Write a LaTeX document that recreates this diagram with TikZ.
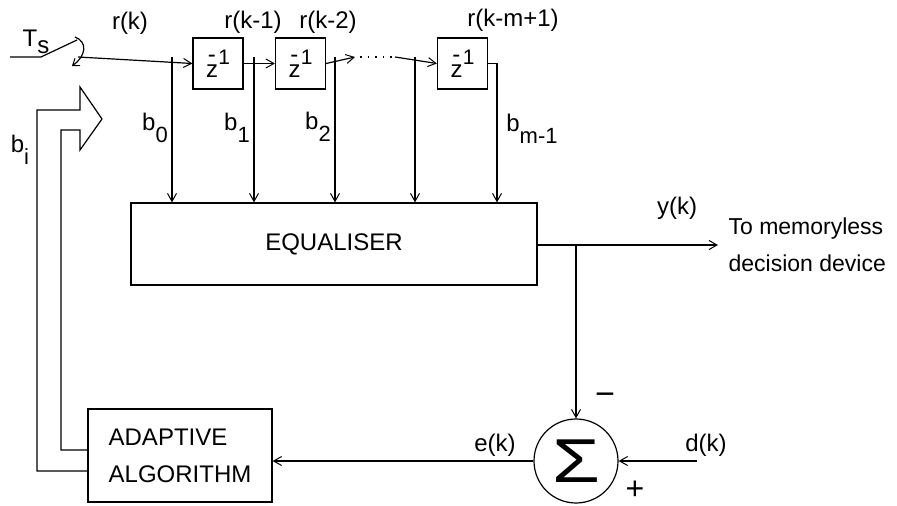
\documentclass[tikz,border=0pt]{standalone}
\usepackage{fontspec}
\setmainfont{Liberation Sans}
\usetikzlibrary{arrows.meta,calc}
\newcommand{\zinv}{z\kern-0.42em\raisebox{15pt}{-}\kern0.1em\raisebox{13pt}{\fontsize{21}{21}\selectfont 1}}
\newcommand{\coef}[1]{b\raisebox{-12pt}{\fontsize{22}{22}\selectfont #1}}

\begin{document}
\begin{tikzpicture}[x=1pt,y=-1pt,line width=1.2pt,
		every node/.style={font=\fontsize{24}{37}\selectfont,inner sep=0pt},
		blk/.style={draw,line width=1.2pt},
		delay/.style={blk,minimum width=50pt,minimum height=51pt},
		sig/.style={-{Straight Barb[length=8pt,width=9pt,line width=1pt]}}]
				\useasboundingbox (0,0) rectangle (897,506);
				\node[delay] (d1) at (218,63.5) {\zinv};
				\node[delay] (d2) at (300.5,63.5) {\zinv};
				\node[delay] (d3) at (462.5,63.5) {\zinv};
				\node[blk,minimum width=406pt,minimum height=82pt] (eq) at (334,244) {EQUALISER};
				\node[blk,minimum width=184pt,minimum height=93pt,align=left] (ad) at (180,455.5) {ADAPTIVE\\ALGORITHM};
				\node[draw,circle,minimum size=84pt] (sum) at (576,461) {\fontsize{62}{62}\selectfont\scalebox{1.25}[1]{Σ}};
				\coordinate (in) at (10,57);
				\coordinate (sw) at (41,57);
				\coordinate (t0) at (172,57);
				\coordinate (t1) at (254,57);
				\coordinate (t2) at (335,57);
				\coordinate (dt) at (355,57);
				\coordinate (ds) at (395,57);
				\coordinate (t3) at (415,57);
				\coordinate (t4) at (497,57);
				\coordinate (br) at (576,245);
				\coordinate (out) at (718,245);
				\coordinate (dk) at (697,461);
				% sampling switch
				\draw (in) -- (sw) -- (77,40);
				\draw[-{Straight Barb[length=6pt,width=9pt,line width=1pt]}] (75,37) .. controls (88,42) and (86,56) .. (72,66);
				% delay line
				\draw[sig] (78,57) -- (d1.west);
				\draw[sig] (d1.east) -- (d2.west);
				\draw[sig] (d2.east) -- (dt);
				\draw[line width=1.6pt,dash pattern=on 1.6pt off 6pt] (dt) ++(5,0) -- (ds);
				\draw[sig] (ds) -- (d3.west);
				\draw[sig] (d3.east) -| (t4 |- eq.north);
				\foreach \t in {t0,t1,t2,t3}
					\draw[sig] (\t) -- (\t |- eq.north);
				% output and error
				\draw[sig] (eq.east |- br) -- (out);
				\draw[sig] (br) -- (sum.north);
				\draw[sig] (dk) -- (sum.east);
				\draw[sig] (sum.west) -- (ad.east |- sum.west);
				% coefficient update
				\draw (ad.west |- 0,471) -- (37,471) -- (37,110) -- (80,110) -- (80,87) -- (102,119) -- (80,150) -- (80,130) -- (61,130) -- (61,450) -- (ad.west |- 0,450);
				% labels
				\node at (36,42) {T\raisebox{-0.3em}{s}};
				\node at (130,23) {r(k)};
				\node at (253,22) {r(k-1)};
				\node at (328,22) {r(k-2)};
				\node at (513,20) {r(k-m+1)};
				\node at (155,128) {\coef{0}};
				\node at (237,128) {\coef{1}};
				\node at (318,127) {\coef{2}};
				\node at (532,129) {\coef{m-1}};
				\node at (20,150) {\coef{i}};
				\node at (677,208) {y(k)};
				\node[anchor=west,align=left,font=\fontsize{23}{37}\selectfont] at (728,245) {To memoryless\\decision device};
				\node at (495,445) {e(k)};
				\node at (706,445) {d(k)};
				\node at (605,399) {\fontsize{34}{34}\selectfont −};
				\node at (635,490) {\fontsize{32}{32}\selectfont +};
		\end{tikzpicture}
\end{document}
